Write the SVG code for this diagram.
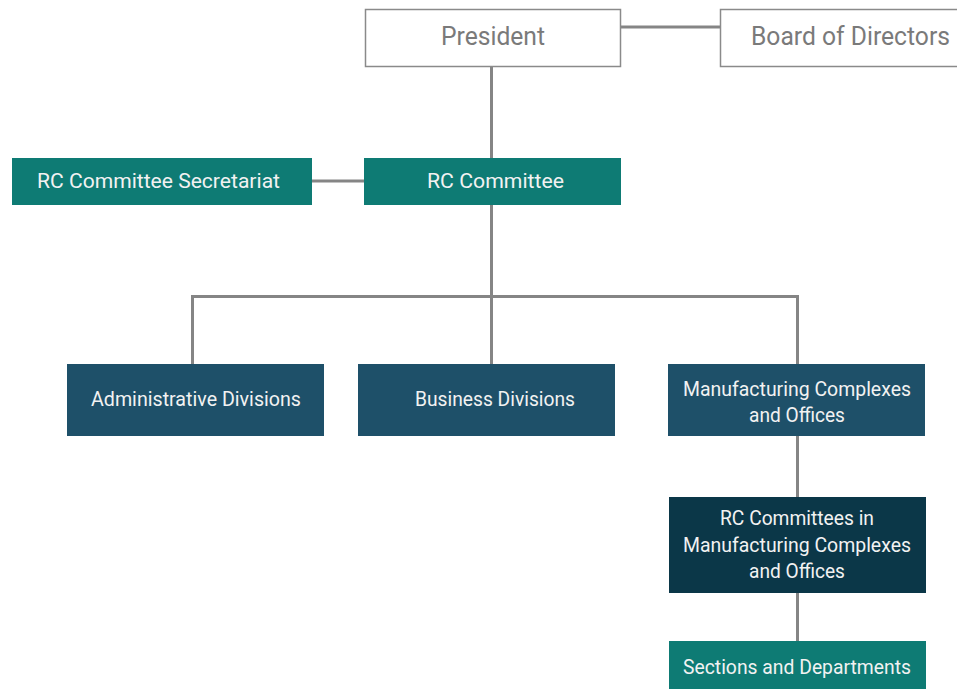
<svg xmlns="http://www.w3.org/2000/svg" width="957" height="689" viewBox="0 0 957 689">
<style>
.box{stroke:none}
.teal{fill:#0E7B74}
.blue{fill:#1E5069}
.dark{fill:#0B3748}
.outline{fill:#fff;stroke:#8a8a8a;stroke-width:1.5}
.lbl{font-family:Roboto,"Liberation Sans",sans-serif;font-size:21px;fill:#F2F2F2;text-anchor:middle}
.glbl{font-family:Roboto,"Liberation Sans",sans-serif;font-size:25px;fill:#7a7a7a;text-anchor:middle}
.conn{stroke:#858585;stroke-width:3;fill:none}
</style>
<rect width="957" height="689" fill="#fff"/>
<g id="connectors">
<line class="conn" x1="621" y1="27" x2="720" y2="27"/>
<line class="conn" x1="491.5" y1="67" x2="491.5" y2="158"/>
<line class="conn" x1="312" y1="181" x2="364" y2="181"/>
<line class="conn" x1="491.5" y1="205" x2="491.5" y2="364"/>
<polyline class="conn" points="192.5,364 192.5,296.5 797.5,296.5 797.5,364"/>
<line class="conn" x1="797.5" y1="436" x2="797.5" y2="497"/>
<line class="conn" x1="797.5" y1="593" x2="797.5" y2="641"/>
</g>
<g id="president">
<rect class="outline" x="365.5" y="9.5" width="255" height="57"/>
<text class="glbl" x="493" y="45" textLength="104" lengthAdjust="spacingAndGlyphs">President</text>
</g>
<g id="board">
<rect class="outline" x="720.5" y="9.5" width="240" height="57"/>
<text class="glbl" x="850.5" y="45" textLength="199" lengthAdjust="spacingAndGlyphs">Board of Directors</text>
</g>
<g id="secretariat">
<rect class="box teal" x="12" y="158" width="300" height="47"/>
<text class="lbl" x="158.5" y="187.5" textLength="243" lengthAdjust="spacingAndGlyphs">RC Committee Secretariat</text>
</g>
<g id="rc-committee">
<rect class="box teal" x="364" y="158" width="257" height="47"/>
<text class="lbl" x="495.5" y="187.5" textLength="137" lengthAdjust="spacingAndGlyphs">RC Committee</text>
</g>
<g id="administrative">
<rect class="box blue" x="67" y="364" width="257" height="72"/>
<text class="lbl" x="196" y="405.5" textLength="210" lengthAdjust="spacingAndGlyphs">Administrative Divisions</text>
</g>
<g id="business">
<rect class="box blue" x="358" y="364" width="257" height="72"/>
<text class="lbl" x="495" y="405.5" textLength="160" lengthAdjust="spacingAndGlyphs">Business Divisions</text>
</g>
<g id="manufacturing">
<rect class="box blue" x="668" y="364" width="257" height="72"/>
<text class="lbl" x="797" y="395.5" textLength="228" lengthAdjust="spacingAndGlyphs">Manufacturing Complexes</text>
<text class="lbl" x="797" y="421.5" textLength="96" lengthAdjust="spacingAndGlyphs">and Offices</text>
</g>
<g id="rc-committees-mfg">
<rect class="box dark" x="669" y="497" width="257" height="96"/>
<text class="lbl" x="797" y="524.5" textLength="154" lengthAdjust="spacingAndGlyphs">RC Committees in</text>
<text class="lbl" x="797" y="551.5" textLength="228" lengthAdjust="spacingAndGlyphs">Manufacturing Complexes</text>
<text class="lbl" x="797" y="577.5" textLength="96" lengthAdjust="spacingAndGlyphs">and Offices</text>
</g>
<g id="sections">
<rect class="box teal" x="669" y="641" width="257" height="48"/>
<text class="lbl" x="797" y="673.5" textLength="228" lengthAdjust="spacingAndGlyphs">Sections and Departments</text>
</g>
</svg>
